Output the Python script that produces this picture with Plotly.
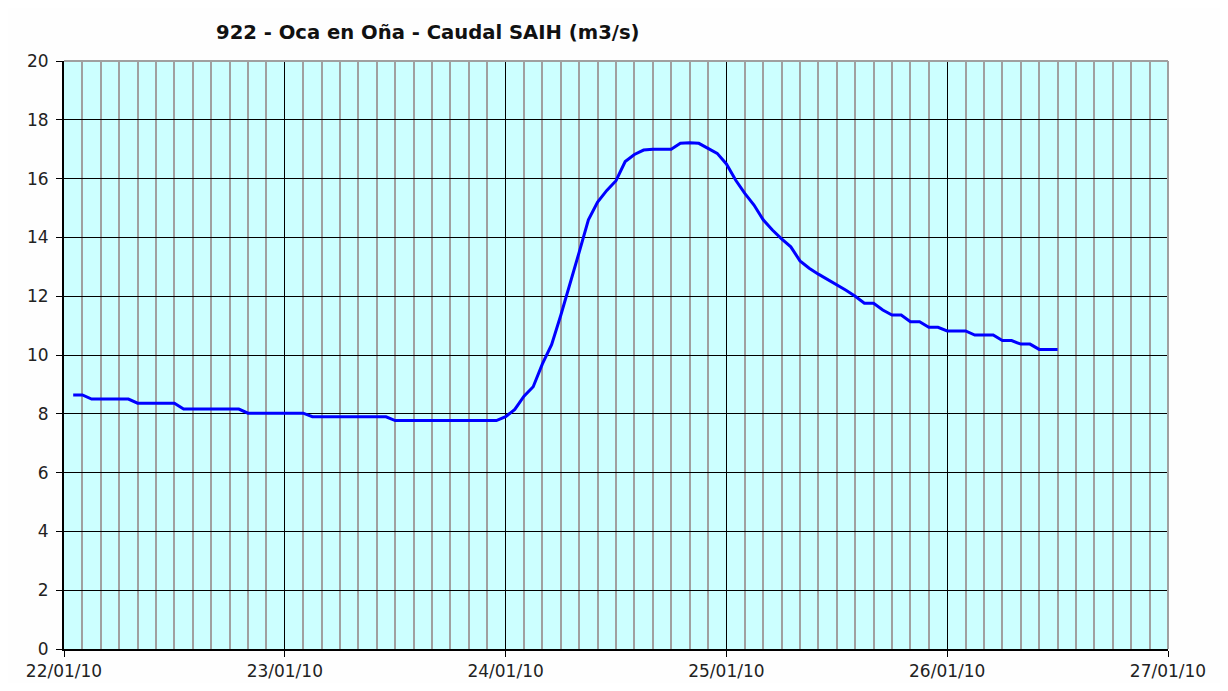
import plotly.graph_objects as go
import pandas as pd

# Hours since 22/01/10 00:00 and discharge (m3/s)
hours = list(range(1, 109))
caudal = [
    8.64, 8.64, 8.50, 8.50, 8.50, 8.50, 8.50, 8.36, 8.36, 8.36,
    8.36, 8.36, 8.16, 8.16, 8.16, 8.16, 8.16, 8.16, 8.16, 8.02,
    8.02, 8.02, 8.02, 8.02, 8.02, 8.02, 7.90, 7.90, 7.90, 7.90,
    7.90, 7.90, 7.90, 7.90, 7.90, 7.77, 7.77, 7.77, 7.77, 7.77,
    7.77, 7.77, 7.77, 7.77, 7.77, 7.77, 7.77, 7.90, 8.15, 8.60,
    8.92, 9.70, 10.35, 11.35, 12.40, 13.50, 14.60, 15.20, 15.60, 15.93,
    16.58, 16.82, 16.97, 17.00, 17.00, 17.00, 17.20, 17.22, 17.20, 17.03,
    16.86, 16.50, 15.95, 15.50, 15.10, 14.60, 14.25, 13.95, 13.68, 13.20,
    12.95, 12.75, 12.57, 12.38, 12.20, 12.00, 11.76, 11.76, 11.53, 11.36,
    11.36, 11.13, 11.13, 10.94, 10.94, 10.82, 10.82, 10.82, 10.68, 10.68,
    10.68, 10.49, 10.49, 10.37, 10.37, 10.19, 10.19, 10.19,
]
title_text = "922 - Oca en Oña - Caudal SAIH (m3/s)"
x_start = "2010-01-22"
x_end = "2010-01-27"

base = pd.Timestamp(x_start)
times = [base + pd.Timedelta(hours=h) for h in hours]

fig = go.Figure()
fig.add_trace(go.Scatter(
    x=times, y=caudal, mode="lines",
    line=dict(color="#0000ff", width=3),
    hoverinfo="x+y", showlegend=False,
))

font_main = "DejaVu Sans"
W, H = 1212, 675  # page body has an 8px margin
L, R, T, B = 56, 52, 53, 34

fig.update_layout(
    width=W, height=H,
    margin=dict(l=L, r=R, t=T, b=B, autoexpand=False),
    paper_bgcolor="#fefefe",
    plot_bgcolor="#ccffff",
    xaxis=dict(
        type="date",
        range=[x_start, x_end],
        dtick=86400000,
        tick0=x_start,
        tickformat="%d/%m/%y",
        ticks="outside", ticklen=6, tickcolor="#000000", tickwidth=1,
        showgrid=True, gridcolor="#000000", gridwidth=1,
        showline=True, linecolor="#000000", linewidth=2,
        minor=dict(dtick=7200000, tick0=x_start, showgrid=True,
                   gridcolor="#a0a0a0", gridwidth=2, ticks=""),
        tickfont=dict(family=font_main, size=17, color="#222222"),
        zeroline=False, automargin=False,
    ),
    yaxis=dict(
        range=[0, 20], dtick=2, tick0=0,
        ticks="outside", ticklen=6, tickcolor="#000000", tickwidth=1,
        showgrid=True, gridcolor="#000000", gridwidth=1,
        showline=True, linecolor="#000000", linewidth=2,
        tickfont=dict(family=font_main, size=17, color="#222222"),
        ticklabelstandoff=4,
        zeroline=False, automargin=False,
    ),
)

fig.add_annotation(
    text=f"<b>{title_text}</b>", xref="paper", yref="paper",
    x=(420 - L) / (W - L - R), y=1 + (T - 25) / (H - T - B),
    xanchor="center", yanchor="middle", showarrow=False,
    font=dict(family=font_main, size=19.6, color="#111111"),
)

# gray frame on top/right
fig.add_shape(type="line", xref="paper", yref="paper", x0=0, x1=1, y0=1, y1=1,
              line=dict(color="#a0a0a0", width=2), layer="above")
fig.add_shape(type="line", xref="paper", yref="paper", x0=1, x1=1, y0=0, y1=1,
              line=dict(color="#a0a0a0", width=2), layer="above")

fig.write_html("out.html")
